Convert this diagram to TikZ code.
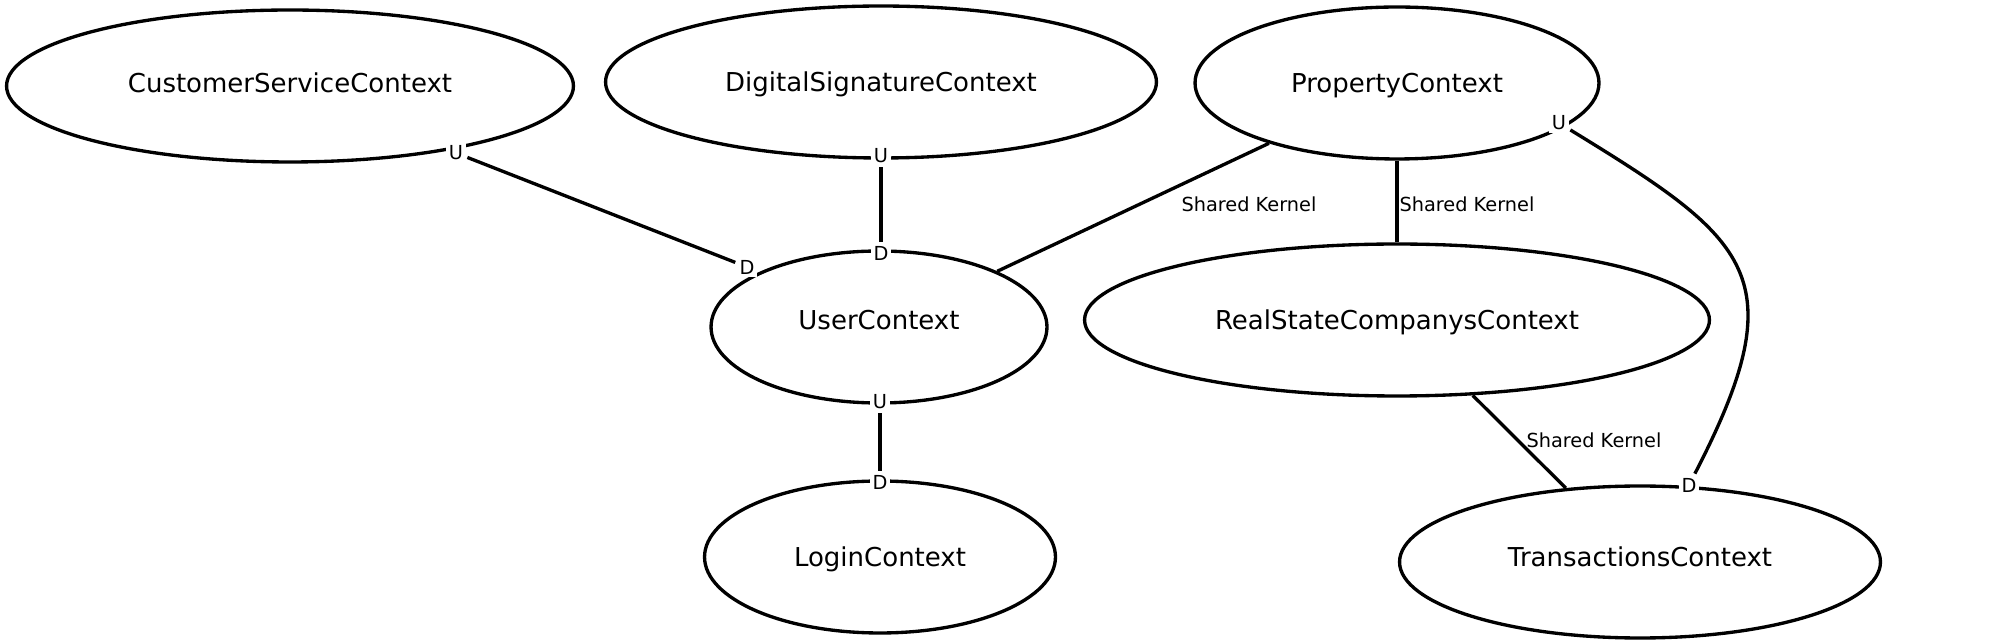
\documentclass[tikz,border=0pt]{standalone}
\usepackage{fontspec}
\setmainfont{DejaVu Sans}
\usetikzlibrary{shapes.geometric}

\begin{document}
\begin{tikzpicture}
    [x=0.02cm,y=-0.02cm,line width=1.9pt,
     ctx/.style={ellipse,draw,inner sep=0pt,minimum height=3.04cm,text height=10.8pt,text depth=0pt,font=\fontsize{14.8}{17}\selectfont},
     ud/.style={fill=white,inner sep=1.5pt,font=\fontsize{11}{13}\selectfont},
     sk/.style={inner sep=0pt,font=\fontsize{11}{13}\selectfont}]
    \useasboundingbox (0,0) rectangle (2000,644);
    % bounded contexts
    \node[ctx,minimum width=11.34cm,text depth=3.4pt] (cs) at (290,86) {CustomerServiceContext};
    \node[ctx,minimum width=11.02cm] (ds) at (881,82) {DigitalSignatureContext};
    \node[ctx,minimum width=8.08cm] (prop) at (1397,83) {PropertyContext};
    \node[ctx,minimum width=6.72cm,text depth=8pt] (user) at (879,327) {UserContext};
    \node[ctx,minimum width=12.5cm] (rsc) at (1397,320) {RealStateCompanysContext};
    \node[ctx,minimum width=7.02cm] (login) at (880,557) {LoginContext};
    \node[ctx,minimum width=9.62cm,text depth=5.7pt] (tx) at (1640,562) {TransactionsContext};
    % upstream / downstream ends
    \node[ud] (csu) at (456,153) {U};
    \node[ud] (udl) at (747,267) {D};
    \node[ud] (dsu) at (881,156) {U};
    \node[ud] (udt) at (881,253) {D};
    \node[ud] (uub) at (880,402) {U};
    \node[ud] (ld) at (880,482) {D};
    \node[ud] (pu) at (1559,123) {U};
    \node[ud] (td) at (1689,485) {D};
    % relations
    \draw (csu) -- (udl) ;
    \draw (dsu) -- (udt) ;
    \draw (uub) -- (ld) ;
    \draw (pu) .. controls (1750,240) and (1797,276) .. (td) ;
    \draw (user) -- (prop) ;
    \draw (prop) -- (rsc) ;
    \draw (rsc) -- (tx) ;
    \node[sk] (sk1) at (1249,204) {Shared Kernel};
    \node[sk] (sk2) at (1467,204) {Shared Kernel};
    \node[sk] (sk3) at (1594,440) {Shared Kernel};
\end{tikzpicture}
\end{document}
